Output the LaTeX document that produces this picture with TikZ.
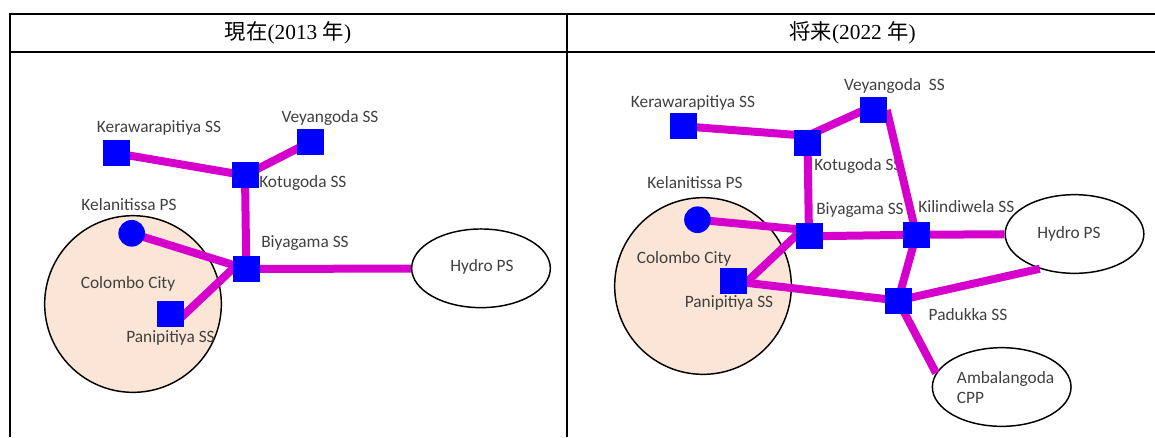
\documentclass[tikz,border=0pt]{standalone}
\usepackage{fontspec}
\setmainfont{Carlito}
\newfontfamily\cjk{Noto Sans CJK JP}
\newfontfamily\hdrfont{Liberation Serif}
\usetikzlibrary{shapes.geometric,calc,backgrounds}
\definecolor{feeder}{RGB}{214,0,204}
\definecolor{station}{RGB}{0,0,255}
\definecolor{cityfill}{RGB}{251,229,214}
\definecolor{labelgray}{RGB}{64,64,64}
\begin{document}
\begin{tikzpicture}[x=0.75pt,y=-0.75pt,
  ss/.style={rectangle,fill=station,minimum width=20.25pt,minimum height=19.5pt,inner sep=0pt},
  ps/.style={circle,fill=station,minimum size=20pt,inner sep=0pt},
  city/.style={circle,draw=black,line width=1.1pt,fill=cityfill,minimum size=132.5pt,inner sep=0pt},
  plant/.style={ellipse,draw=black,line width=1.1pt,minimum width=104pt,minimum height=59pt,inner sep=0pt},
  lbl/.style={font=\fontsize{13}{15}\selectfont,text=labelgray,inner sep=0pt},
  feed/.style={draw=feeder,line width=6pt},
  ext/.style={shorten <=-4pt,shorten >=-4pt},
  rule/.style={line width=1.5pt},
  head/.style={font=\fontsize{16}{18}\selectfont,inner sep=0pt}]
\useasboundingbox (0,0) rectangle (1155,437);

% table frame
\draw[rule] (9.3,14.2) -- (1155,14.2);
\draw[rule] (9.3,51.8) -- (1155,51.8);
\draw[rule] (10,13.5) -- (10,437);
\draw[rule] (566.7,13.5) -- (566.7,437);
\node[head] (hdrNow) at (288,33) {{\cjk 現在}{\hdrfont (2013 }{\cjk 年}{\hdrfont )}};
\node[head] (hdrFut) at (852.5,33) {{\cjk 将来}{\hdrfont (2022 }{\cjk 年}{\hdrfont )}};

% substations and power stations (top layer)
\node[ss] (keraL) at (116.3,153.3) {};
\node[ss] (kotL)  at (245,175.3) {};
\node[ss] (veyL)  at (310.8,141.7) {};
\node[ps] (kelL)  at (131.7,233.3) {};
\node[ss] (biyL)  at (246.3,269) {};
\node[ss] (panL)  at (170.8,314.3) {};

\node[ss] (keraR) at (683.7,126.3) {};
\node[ss] (kotR)  at (807.5,142.8) {};
\node[ss] (veyR)  at (873,110) {};
\node[ps] (kelR)  at (697.5,219.7) {};
\node[ss] (biyR)  at (809,236.3) {};
\node[ss] (panR)  at (733.7,281.3) {};
\node[ss] (kilR)  at (916.3,234.7) {};
\node[ss] (padR)  at (898,300.5) {};

\begin{scope}[on background layer]
  % areas and plants
  \node[city]  (cityL)  at (133,304) {};
  \node[plant] (hydroL) at (481,268.3) {};
  \node[city]  (cityR)  at (703,286) {};
  \node[plant] (hydroR) at (1074.5,234) {};
  \node[plant] (ambR)   at (1001.7,387) {};

  % labels, present grid
  \node[lbl] (tCityL)  at (128,284) {Colombo City};
  \node[lbl] (tHydroL) at (482,267) {Hydro PS};
  \node[lbl] (tKeraL)  at (159,128) {Kerawarapitiya SS};
  \node[lbl] (tVeyL)   at (330,118) {Veyangoda SS};
  \node[lbl,anchor=west] (tKotL) at (259,183) {Kotugoda SS};
  \node[lbl] (tKelL)   at (129,205) {Kelanitissa PS};
  \node[lbl,anchor=west] (tBiyL) at (261,243) {Biyagama SS};
  \node[lbl] (tPanL)   at (170.5,338) {Panipitiya SS};

  % labels, future grid
  \node[lbl] (tKeraR)  at (693,103) {Kerawarapitiya SS};
  \node[lbl] (tVeyR)   at (894.5,86) {Veyangoda\ \ SS};
  \node[lbl,anchor=west] (tKotR) at (814,166) {Kotugoda SS};
  \node[lbl] (tKelR)   at (695,183) {Kelanitissa PS};
  \node[lbl,anchor=west] (tBiyR) at (816,210) {Biyagama SS};
  \node[lbl,anchor=west] (tKilR) at (918,207) {Kilindiwela SS};
  \node[lbl] (tCityR)  at (684,259) {Colombo City};
  \node[lbl] (tPanR)   at (729,303) {Panipitiya SS};
  \node[lbl] (tPadR)   at (968,315) {Padukka SS};
  \node[lbl] (tHydroR) at (1069,234) {Hydro PS};
  \node[lbl,align=left,anchor=west] (tAmbR) at (956.7,388) {Ambalangoda\\CPP};

  % transmission lines, present
  \draw[feed] (keraL.center) -- (kotL.center);
  \draw[feed] (kotL.center) -- (veyL.center);
  \draw[feed] (kotL.center) -- (biyL.center);
  \draw[feed] (kelL.center) -- (biyL.center);
  \draw[feed,ext] (panL.east) -- (biyL.west);
  \draw[feed] (biyL.center) -- (hydroL);

  % transmission lines, future
  \draw[feed] (keraR.center) -- ($(kotR.center)+(0,-7)$);
  \draw[feed] ($(kotR.center)+(0,-7)$) -- ($(veyR.center)+(0,-4)$);
  \draw[feed] (kotR.center) -- (biyR.center);
  \draw[feed] (veyR.east) -- (kilR.center);
  \draw[feed] (kelR.center) -- ($(biyR.center)+(0,-6)$);
  \draw[feed] (biyR.center) -- (kilR.center);
  \draw[feed] (kilR.center) -- (hydroR);
  \draw[feed,ext] (panR.east) -- (biyR.west);
  \draw[feed] (panR.center) -- (padR.center);
  \draw[feed] (kilR.center) -- (padR.center);
  \draw[feed] (padR.center) -- (hydroR.225);
  \draw[feed] (padR.center) -- (ambR.168);
\end{scope}
\end{tikzpicture}
\end{document}
